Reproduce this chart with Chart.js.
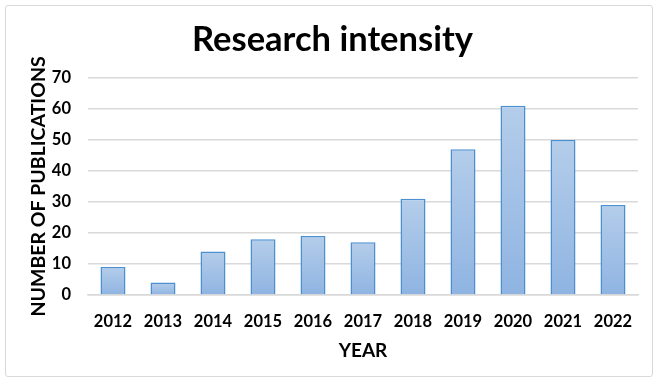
<!DOCTYPE html>
<html lang="en">
  <head>
    <meta charset="UTF-8" />
    <title>Research intensity</title>
    <script src="https://cdn.jsdelivr.net/npm/chart.js@4.4.1/dist/chart.umd.min.js"></script>
    <style>
      html, body {
        margin: 0;
        padding: 0;
        background: #ffffff;
      }
      .frame {
        position: relative;
        width: 657px;
        height: 381px;
      }
      .border {
        position: absolute;
        left: 5px;
        top: 5px;
        width: 646px;
        height: 370px;
        border: 1px solid #d9d9d9;
        border-radius: 3px;
      }
      canvas {
        position: absolute;
        left: 0;
        top: 0;
      }
    </style>
  </head>
  <body>
    <div class="frame">
      <div class="border"></div>
      <canvas id="myChart" width="657" height="381"></canvas>
    </div>

    <script>
      // publications per year
      const years = ["2012", "2013", "2014", "2015", "2016", "2017", "2018", "2019", "2020", "2021", "2022"];
      const publications = [9, 4, 14, 18, 19, 17, 31, 47, 61, 50, 29];
      const yTicks = [0, 10, 20, 30, 40, 50, 60, 70];

      const FONT = "Lato, 'Open Sans', sans-serif";

      // each bar gets its own light-to-darker blue gradient, like the original
      const barFill = (context) => {
        const chart = context.chart;
        const area = chart.chartArea;
        if (!area) return "#a3c2e6";
        const top = chart.scales.y.getPixelForValue(context.raw);
        const bottom = chart.scales.y.getPixelForValue(0);
        const g = chart.ctx.createLinearGradient(0, top, 0, bottom);
        g.addColorStop(0, "#b4cdea");
        g.addColorStop(1, "#8fb4e2");
        return g;
      };

      new Chart(document.getElementById("myChart"), {
        type: "bar",
        data: {
          labels: years,
          datasets: [
            {
              label: "Publications",
              data: publications,
              backgroundColor: barFill,
              borderColor: "#4d90d2",
              borderWidth: 1.5,
              categoryPercentage: 1,
              barPercentage: 0.5,
            },
          ],
        },
        options: {
          responsive: false,
          animation: false,
          devicePixelRatio: 1,
          layout: {
            padding: { left: 27, right: 19, top: 3, bottom: 19 },
          },
          plugins: {
            legend: { display: false },
            tooltip: { enabled: false },
            title: {
              display: true,
              text: "Research intensity",
              color: "#000000",
              font: { family: FONT, size: 34.5, weight: "bold", lineHeight: 1.2 },
              padding: { top: 16, bottom: 17.5 },
            },
          },
          scales: {
            x: {
              afterFit: (scale) => {
                scale.height = 67;
              },
              grid: { display: false, drawTicks: false },
              border: { display: true, color: "#d9d9d9", width: 1.5 },
              ticks: {
                color: "#000000",
                padding: 17,
                maxRotation: 0,
                font: { family: FONT, size: 16.5, weight: "bold", lineHeight: 1.2 },
              },
              title: {
                display: true,
                text: "YEAR",
                color: "#000000",
                font: { family: FONT, size: 19, weight: "bold", lineHeight: 1.2 },
                padding: { top: 8, bottom: 0 },
              },
            },
            y: {
              min: yTicks[0],
              max: yTicks[yTicks.length - 1],
              afterBuildTicks: (scale) => {
                scale.ticks = yTicks.map((v) => ({ value: v }));
              },
              afterFit: (scale) => {
                scale.width = 61;
              },
              grid: { color: "#d9d9d9", lineWidth: 1.5, drawTicks: false },
              border: { display: false },
              ticks: {
                color: "#000000",
                padding: 17,
                font: { family: FONT, size: 16.5, weight: "bold", lineHeight: 1.2 },
              },
              title: {
                display: true,
                text: "NUMBER OF PUBLICATIONS",
                color: "#000000",
                font: { family: FONT, size: 19.5, weight: "bold", lineHeight: 1.2 },
                padding: { top: 0, bottom: 4 },
              },
            },
          },
        },
      });
    </script>
  </body>
</html>
